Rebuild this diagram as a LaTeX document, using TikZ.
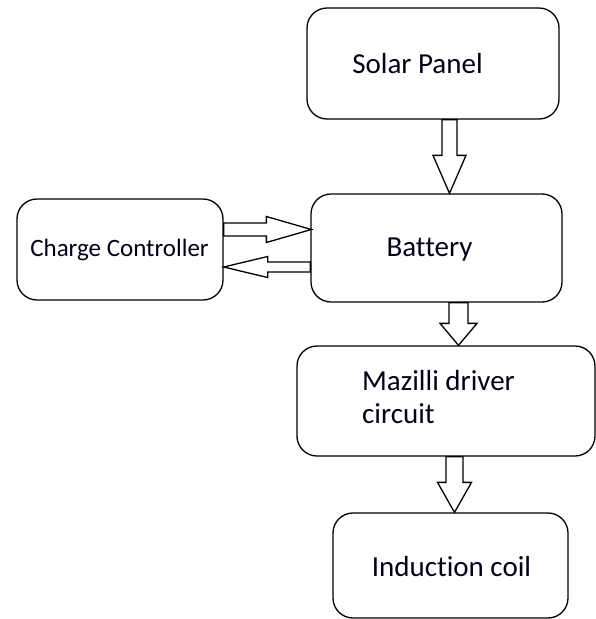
\documentclass[tikz,border=0pt]{standalone}
\usepackage{fontspec}
\setmainfont[Ligatures={NoCommon}]{Carlito}
\usetikzlibrary{calc}
\tikzset{
  box/.style={draw, line width=1.3pt, rounded corners=20pt, inner sep=0pt},
  blk/.style={draw, line width=1.3pt, line join=miter, fill=white},
  lbl/.style={inner sep=0pt, text=black!90!blue, font=\fontsize{29}{33}\selectfont},
  small/.style={inner sep=0pt, text=black!90!blue, font=\fontsize{25}{30}\selectfont},
}
\newcommand\BlkDown[5]{\draw[blk] ($(#1)+(-#3,0)$) -- ($(#2)+(-#3,-#5)$) -- ($(#2)+(-#4,-#5)$) -- (#2) -- ($(#2)+(#4,-#5)$) -- ($(#2)+(#3,-#5)$) -- ($(#1)+(#3,0)$) -- cycle;}
\newcommand\BlkHor[5]{\draw[blk] ($(#1)+(0,-#3)$) -- ($(#2)+({-(#5)},-#3)$) -- ($(#2)+({-(#5)},-#4)$) -- (#2) -- ($(#2)+({-(#5)},#4)$) -- ($(#2)+({-(#5)},#3)$) -- ($(#1)+(0,#3)$) -- cycle;}
\begin{document}
\begin{tikzpicture}[x=1pt,y=-1pt]
\useasboundingbox (0,0) rectangle (596,619);
% boxes
\node[box, minimum width=252pt, minimum height=111pt] (sp)  at (433,63.5) {};
\node[box, minimum width=251pt, minimum height=108pt] (bat) at (436.5,248) {};
\node[box, minimum width=206pt, minimum height=101pt] (cc)  at (120,249.5) {};
\node[box, minimum width=298pt, minimum height=110pt] (maz) at (446,401) {};
\node[box, minimum width=235pt, minimum height=105pt] (ind) at (450.5,565.5) {};
% labels
\node[lbl, anchor=base] (tsp)  at (417.5,73) {Solar Panel};
\node[lbl, anchor=base] (tbat) at (429.5,256.7) {Battery};
\node[small, anchor=base] (tcc) at (119.5,256.7) {Charge Controller};
\node[lbl, anchor=north west, align=left] (tmaz) at (362,370) {Mazilli driver\\circuit};
\node[lbl, anchor=base] (tind) at (451.5,576) {Induction coil};
% connector end points
\coordinate (a1s) at ([xshift=16.5pt]sp.south);
\coordinate (a1t) at ([xshift=13pt]bat.north);
\coordinate (a2s) at ([xshift=22pt]bat.south);
\coordinate (a2t) at ([xshift=12.5pt]maz.north);
\coordinate (a3s) at ([xshift=8.5pt]maz.south);
\coordinate (a3t) at ([xshift=4pt]ind.north);
\coordinate (r1s) at ([yshift=20pt]cc.east);
\coordinate (r1t) at ([yshift=18.5pt,xshift=1pt]bat.west);
\coordinate (l1s) at ([yshift=-19pt]bat.west);
\coordinate (l1t) at ([yshift=-17.5pt]cc.east);
% block arrows
\BlkDown{a1s}{a1t}{7.5}{16.5}{38}
\BlkDown{a2s}{a2t}{9.5}{18.5}{22}
\BlkDown{a3s}{a3t}{8.5}{17}{30}
\BlkHor{r1s}{r1t}{6.5}{13}{45}
\BlkHor{l1s}{l1t}{5}{10.5}{-44}
\end{tikzpicture}
\end{document}
